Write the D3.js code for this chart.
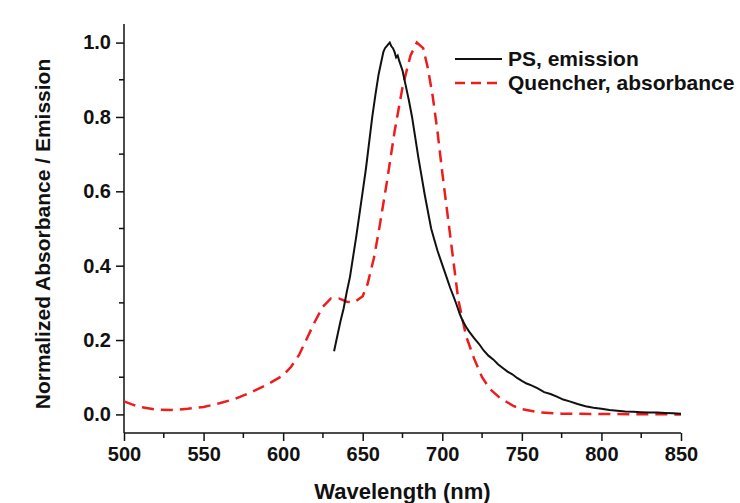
<!DOCTYPE html>
<html>
<head>
<meta charset="utf-8">
<script src="https://cdn.jsdelivr.net/npm/d3@7"></script>
<style>
  body { margin: 0; background: #fff; }
  text { font-family: "Liberation Sans", Arial, sans-serif; font-weight: bold; fill: #111; }
</style>
</head>
<body>
<script>
/* Normalized absorbance / emission spectra */

// Quencher absorbance (red dashed)
const quencherNm = [500, 505, 510, 520, 530, 540, 550, 560, 570, 580, 590, 600, 605, 610, 615, 620, 625, 630, 635, 640, 645, 650, 653, 657, 660, 665, 670, 675, 680, 684, 688, 691, 694, 697, 700, 705, 710, 715, 720, 725, 730, 736, 745, 750, 760, 775, 800, 850];
const quencherAbs = [0.035, 0.027, 0.020, 0.013, 0.012, 0.015, 0.020, 0.030, 0.042, 0.060, 0.080, 0.105, 0.128, 0.160, 0.205, 0.250, 0.290, 0.312, 0.312, 0.303, 0.302, 0.318, 0.350, 0.420, 0.490, 0.620, 0.760, 0.880, 0.965, 1.000, 0.985, 0.930, 0.855, 0.760, 0.650, 0.480, 0.310, 0.210, 0.150, 0.100, 0.068, 0.045, 0.022, 0.014, 0.006, 0.002, 0.001, 0.000];

// PS emission (black solid)
const psNm = [632, 634, 636, 638, 640, 642, 644, 646, 648, 650, 652, 654, 656, 658, 660, 661, 662, 663, 664, 665, 666, 667, 668, 669, 670, 671, 672, 673, 675, 677, 679, 681, 683, 685, 687, 689, 691, 693, 695, 697, 699, 701, 703, 705, 707, 709, 711, 713, 715, 717, 720, 723, 726, 729, 732, 735, 738, 741, 744, 747, 750, 753, 756, 760, 764, 768, 772, 776, 780, 785, 790, 795, 800, 805, 810, 815, 820, 825, 830, 835, 840, 845, 850];
const psEm = [0.170, 0.210, 0.250, 0.285, 0.330, 0.370, 0.425, 0.480, 0.540, 0.600, 0.660, 0.730, 0.800, 0.860, 0.915, 0.935, 0.955, 0.975, 0.985, 0.990, 0.995, 1.000, 0.990, 0.985, 0.975, 0.960, 0.965, 0.950, 0.925, 0.885, 0.845, 0.800, 0.745, 0.690, 0.640, 0.590, 0.545, 0.500, 0.470, 0.440, 0.415, 0.390, 0.365, 0.340, 0.318, 0.295, 0.270, 0.250, 0.235, 0.222, 0.205, 0.190, 0.172, 0.158, 0.148, 0.135, 0.125, 0.115, 0.108, 0.098, 0.090, 0.083, 0.078, 0.070, 0.060, 0.055, 0.048, 0.040, 0.035, 0.028, 0.022, 0.018, 0.015, 0.012, 0.010, 0.008, 0.007, 0.006, 0.005, 0.005, 0.004, 0.003, 0.002];

const xTicks = [500, 550, 600, 650, 700, 750, 800, 850];
const yTicks = [0.0, 0.2, 0.4, 0.6, 0.8, 1.0];
const seriesNames = ["PS, emission", "Quencher, absorbance"];

/* Chart size */
const w = 740, h = 503;
const mLeft = 124, mRight = 681, mTop = 24, mBottom = 433;

const x = d3.scaleLinear().domain([500, 850]).range([mLeft, mRight]);
const y = d3.scaleLinear().domain([-0.05, 1.05]).range([mBottom, mTop]);

const svg = d3.select("body").append("svg")
  .attr("width", w)
  .attr("height", h);

svg.append("rect").attr("width", w).attr("height", h).attr("fill", "#fff");

/* Axes */
const xAxis = svg.append("g")
  .attr("transform", "translate(0," + mBottom + ")")
  .call(d3.axisBottom(x).tickValues(xTicks).tickFormat(d3.format("d")).tickSize(8).tickPadding(6));

xAxis.append("g").selectAll("line")
  .data(d3.range(525, 850, 50))
  .enter().append("line")
  .attr("x1", d => x(d)).attr("x2", d => x(d))
  .attr("y1", 0).attr("y2", 5)
  .attr("stroke", "#111").attr("stroke-width", 1.5);

const yAxis = svg.append("g")
  .attr("transform", "translate(" + mLeft + ",0)")
  .call(d3.axisLeft(y).tickValues(yTicks).tickFormat(d3.format(".1f")).tickSize(8).tickPadding(5));

yAxis.append("g").selectAll("line")
  .data([0.1, 0.3, 0.5, 0.7, 0.9])
  .enter().append("line")
  .attr("x1", 0).attr("x2", -5)
  .attr("y1", d => y(d)).attr("y2", d => y(d))
  .attr("stroke", "#111").attr("stroke-width", 1.5);

[xAxis, yAxis].forEach(g => {
  g.select(".domain").attr("stroke", "#111").attr("stroke-width", 1.5);
  g.selectAll(".tick line").attr("stroke", "#111").attr("stroke-width", 1.5);
  g.selectAll(".tick text")
    .attr("fill", "#111")
    .style("font-family", "'Liberation Sans', Arial, sans-serif")
    .style("font-weight", "bold")
    .style("font-size", "20px");
});
// plain axis lines, no outer ticks
xAxis.select(".domain").attr("d", "M" + mLeft + ",0H" + mRight);
yAxis.select(".domain").attr("d", "M0," + mBottom + "V" + mTop);

/* Axis titles */
svg.append("text")
  .attr("x", (mLeft + mRight) / 2)
  .attr("y", 499)
  .attr("text-anchor", "middle")
  .style("font-size", "22px")
  .text("Wavelength (nm)");

svg.append("text")
  .attr("transform", "translate(50,234) rotate(-90)")
  .attr("text-anchor", "middle")
  .style("font-size", "21px")
  .text("Normalized Absorbance / Emission");

/* Curves */
const line = d3.line().x(d => x(d[0])).y(d => y(d[1])).curve(d3.curveLinear);

svg.append("path")
  .datum(d3.zip(quencherNm, quencherAbs))
  .attr("d", line)
  .attr("fill", "none")
  .attr("stroke", "#ee1c1c")
  .attr("stroke-width", 2.5)
  .attr("stroke-dasharray", "12,7");

svg.append("path")
  .datum(d3.zip(psNm, psEm))
  .attr("d", line)
  .attr("fill", "none")
  .attr("stroke", "#111")
  .attr("stroke-width", 2);

/* Legend */
const legend = svg.append("g");
legend.append("line")
  .attr("x1", 455).attr("x2", 502).attr("y1", 59).attr("y2", 59)
  .attr("stroke", "#111").attr("stroke-width", 2);
legend.append("line")
  .attr("x1", 455).attr("x2", 502).attr("y1", 83).attr("y2", 83)
  .attr("stroke", "#ee1c1c").attr("stroke-width", 2.5)
  .attr("stroke-dasharray", "10,6");
legend.selectAll("text.lg")
  .data(seriesNames)
  .enter().append("text")
  .attr("class", "lg")
  .attr("x", 508)
  .attr("y", (d, i) => 66 + i * 24)
  .style("font-size", "21px")
  .text(d => d);
</script>
</body>
</html>
